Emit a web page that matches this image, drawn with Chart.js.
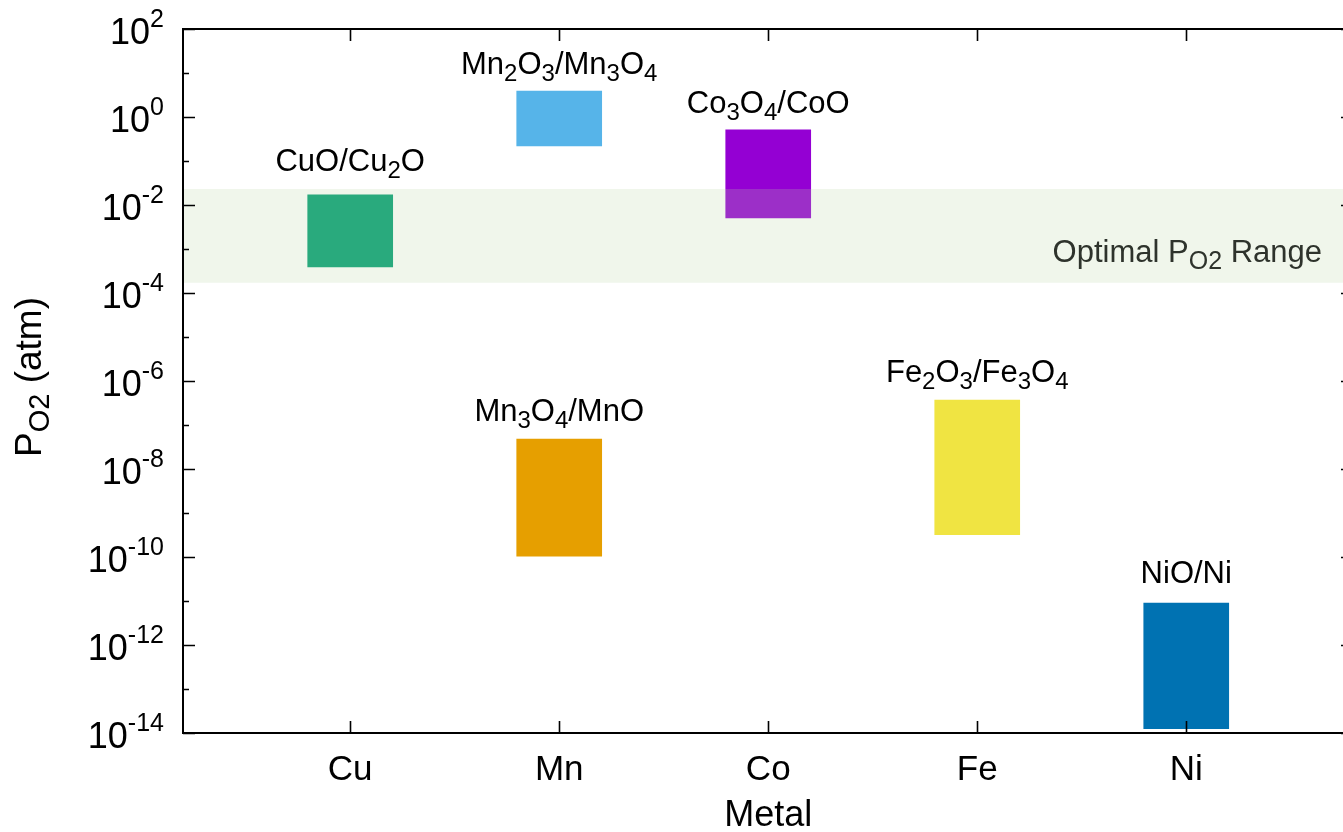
<!DOCTYPE html>
<html><head><meta charset="utf-8">
<script src="https://cdn.jsdelivr.net/npm/chart.js@4.4.1/dist/chart.umd.min.js"></script>
<style>html,body{margin:0;padding:0;background:#fff;} #wrap{width:1343px;height:832px;position:relative;}</style>
</head><body><div id="wrap"><canvas id="c"></canvas></div>
<script>
// ---- data ----
const categories = ['Cu', 'Mn', 'Co', 'Fe', 'Ni'];
const barCategory = ['Cu', 'Mn', 'Mn', 'Co', 'Fe', 'Ni'];
const barLabels = ['CuO/Cu_2O', 'Mn_2O_3/Mn_3O_4', 'Mn_3O_4/MnO', 'Co_3O_4/CoO', 'Fe_2O_3/Fe_3O_4', 'NiO/Ni'];
const barLow  = [3.9e-4, 0.22, 1.05e-10, 5.1e-3, 3.2e-10, 1.25e-14];
const barHigh = [1.7e-2, 3.9, 4.8e-8, 0.51, 3.7e-7, 9e-12];
const optimalRange = [1.7e-4, 2.3e-2];
const yTickExponents = [-14, -13, -12, -11, -10, -9, -8, -7, -6, -5, -4, -3, -2, -1, 0, 1, 2];
const yLabelExponents = [-14, -12, -10, -8, -6, -4, -2, 0, 2];
const xRange = [0.2, 5.75];
const yRange = [1e-14, 1e2];

// ---- styles ----
const barColors = ['#009e73', '#56b4e9', '#e69f00', '#9400d3', '#f0e442', '#0072b2'];
const labelGap = [24, 17, 18, 17, 18, 20];
const FONT = '"Liberation Sans", Arial, Helvetica, sans-serif';

function parseRich(text) {
  const segs = [];
  let i = 0;
  const push = (t, mode) => {
    const last = segs[segs.length - 1];
    if (last && last.mode === mode) last.t += t; else segs.push({ t, mode });
  };
  while (i < text.length) {
    const ch = text[i];
    if (ch === '_' || ch === '^') {
      const mode = ch === '_' ? 'sub' : 'sup';
      if (text[i + 1] === '{') {
        const j = text.indexOf('}', i + 2);
        segs.push({ t: text.slice(i + 2, j), mode });
        i = j + 1;
      } else {
        segs.push({ t: text[i + 1], mode });
        i += 2;
      }
    } else { push(ch, 'n'); i++; }
  }
  return segs;
}

function drawRich(ctx, text, x, y, o) {
  const segs = parseRich(text);
  const fontFor = m => (m === 'n' ? o.size : o.small) + 'px ' + FONT;
  let total = 0;
  segs.forEach(s => { ctx.font = fontFor(s.mode); s.w = ctx.measureText(s.t).width; total += s.w; });
  let cx = o.align === 'center' ? x - total / 2 : (o.align === 'right' ? x - total : x);
  ctx.fillStyle = o.color || '#000';
  ctx.textAlign = 'left';
  ctx.textBaseline = 'alphabetic';
  segs.forEach(s => {
    ctx.font = fontFor(s.mode);
    const dy = s.mode === 'sub' ? o.subDy : (s.mode === 'sup' ? -o.supDy : 0);
    ctx.fillText(s.t, cx, y + dy);
    cx += s.w;
  });
}

const decorPlugin = {
  id: 'decor',
  afterDraw(chart) {
    const ctx = chart.ctx;
    const xs = chart.scales.x, ys = chart.scales.y;
    const a = chart.chartArea;
    const L = a.left, T = a.top, B = a.bottom;
    const Rv = a.right + 10;
    ctx.save();
    // frame
    ctx.strokeStyle = '#000';
    ctx.lineWidth = 2;
    ctx.beginPath();
    ctx.moveTo(L, T); ctx.lineTo(Rv, T);
    ctx.moveTo(L, B); ctx.lineTo(Rv, B);
    ctx.moveTo(L, T - 1); ctx.lineTo(L, B + 1);
    ctx.moveTo(Rv, T); ctx.lineTo(Rv, B);
    ctx.stroke();
    // y ticks
    ctx.lineWidth = 1.6;
    ctx.beginPath();
    yTickExponents.forEach(e => {
      const y = Math.round(ys.getPixelForValue(Math.pow(10, e))) + 0.5;
      const len = (e % 2 === 0) ? 12 : 6;
      ctx.moveTo(L, y); ctx.lineTo(L + len, y);
      ctx.moveTo(Rv, y); ctx.lineTo(Rv - len, y);
    });
    // x ticks
    categories.forEach((c, i) => {
      const x = Math.round(xs.getPixelForValue(i + 1)) + 0.5;
      ctx.moveTo(x, B); ctx.lineTo(x, B - 12);
      ctx.moveTo(x, T); ctx.lineTo(x, T + 12);
    });
    ctx.stroke();
    // y tick labels
    yLabelExponents.forEach(e => {
      const y = ys.getPixelForValue(Math.pow(10, e));
      drawRich(ctx, '10^{' + e + '}', L - 19, y + 15, { size: 36, small: 25, supDy: 17, align: 'right' });
    });
    // x tick labels
    categories.forEach((c, i) => {
      drawRich(ctx, c, xs.getPixelForValue(i + 1), B + 47, { size: 35, small: 25, align: 'center' });
    });
    // bar labels
    barLabels.forEach((lab, i) => {
      const x = xs.getPixelForValue(categories.indexOf(barCategory[i]) + 1);
      const y = ys.getPixelForValue(barHigh[i]) - labelGap[i];
      drawRich(ctx, lab, x, y, { size: 31, small: 24, subDy: 7, align: 'center' });
    });
    // band label
    const bandMid = ys.getPixelForValue(Math.sqrt(optimalRange[0] * optimalRange[1]));
    drawRich(ctx, 'Optimal P_{O2} Range', a.right - 21, bandMid + 26,
      { size: 31, small: 25, subDy: 7, align: 'right', color: '#2e332c' });
    // axis titles
    drawRich(ctx, 'Metal', xs.getPixelForValue(3), 826, { size: 36, small: 28, align: 'center' });
    ctx.translate(41, ys.getPixelForValue(1e-6) - 4);
    ctx.rotate(-Math.PI / 2);
    drawRich(ctx, 'P_{O2} (atm)', 0, 0, { size: 37, small: 29, subDy: 8, align: 'center' });
    ctx.restore();
  }
};

const barData = barLow.map((lo, i) => ({ x: categories.indexOf(barCategory[i]) + 1, y: [lo, barHigh[i]] }));

new Chart(document.getElementById('c'), {
  type: 'bar',
  data: {
    datasets: [
      {
        type: 'bar',
        data: barData,
        backgroundColor: barColors,
        borderWidth: 0,
        barThickness: 85,
        order: 2
      },
      {
        type: 'line',
        data: [{ x: xRange[0], y: optimalRange[1] }, { x: xRange[1], y: optimalRange[1] }],
        borderWidth: 0,
        pointRadius: 0,
        fill: false,
        order: 1
      },
      {
        type: 'line',
        data: [{ x: xRange[0], y: optimalRange[0] }, { x: xRange[1], y: optimalRange[0] }],
        borderWidth: 0,
        pointRadius: 0,
        fill: '-1',
        backgroundColor: 'rgba(187,215,163,0.22)',
        order: 1
      }
    ]
  },
  options: {
    responsive: true,
    maintainAspectRatio: false,
    animation: false,
    layout: { padding: { left: 183, top: 29, right: 0, bottom: 99 } },
    plugins: { legend: { display: false }, tooltip: { enabled: false } },
    scales: {
      x: { type: 'linear', display: false, offset: false, min: xRange[0], max: xRange[1] },
      y: { type: 'logarithmic', display: false, min: yRange[0], max: yRange[1] }
    }
  },
  plugins: [decorPlugin]
});
</script>
</body></html>
